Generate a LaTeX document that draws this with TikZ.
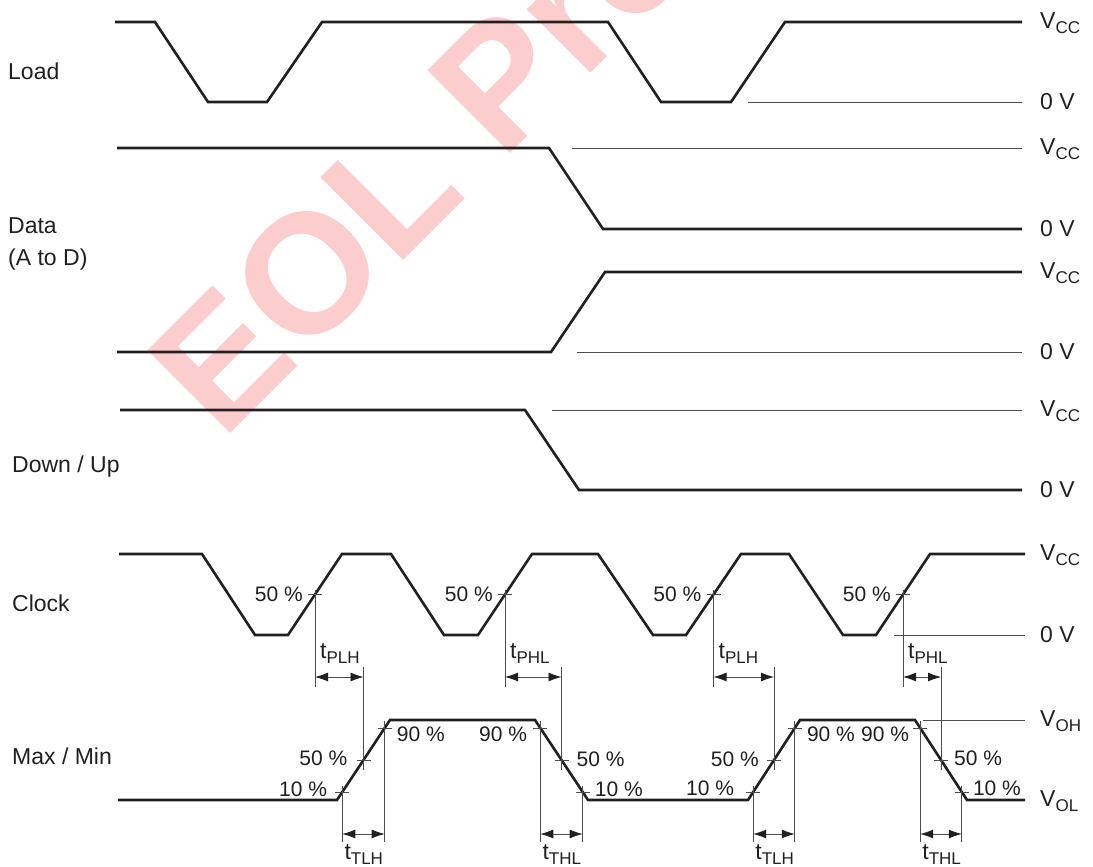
\documentclass[tikz,border=0pt]{standalone}
\usepackage{fontspec}
\setmainfont{Liberation Sans}
\usepackage{tikz}
\usetikzlibrary{arrows.meta,calc}
\definecolor{TraceInk}{HTML}{231F20}
\definecolor{GuideInk}{gray}{0.30}
\definecolor{StampPink}{RGB}{252,205,205}
\newcommand{\lblsize}{\fontsize{23}{27}\selectfont}
\newcommand{\pctsize}{\fontsize{21}{24}\selectfont}
\newcommand{\lowsub}[1]{\raisebox{-5pt}{\fontsize{17}{18}\selectfont #1}}

\begin{document}
\begin{tikzpicture}[x=1pt,y=-1pt,>=Latex,
  trace/.style={line width=2.6pt,draw=TraceInk},
  guide/.style={line width=0.9pt,draw=GuideInk},
  dimline/.style={line width=0.8pt,draw=GuideInk},
  dimarrow/.style={dimline,{Latex[length=13pt,width=9pt,color=TraceInk]}-{Latex[length=13pt,width=9pt,color=TraceInk]}},
  lbl/.style={font=\lblsize,text=TraceInk,inner sep=0pt},
  pct/.style={font=\pctsize,text=TraceInk,inner sep=0pt}]
  \useasboundingbox (0,0) rectangle (1093,867);

  % watermark, cut at the page edge
  \begin{scope}
    \clip (0,0) rectangle (1093,867);
    \node[rotate=45,anchor=base west,inner sep=0pt,text=StampPink,
      font=\bfseries\fontsize{170}{170}\selectfont] (stamp) at (222,442) {EOL Pro};
  \end{scope}

  % input traces
  \draw[trace] (115,22) -- (155,22) -- (208,102) -- (267,102) -- (322,22)
    -- (608,22) -- (661,102) -- (731,102) -- (785,22) -- (1022,22);
  \draw[trace] (117,148) -- (549,148) -- (603,229) -- (1022,229);
  \draw[trace] (117,352) -- (551,352) -- (605,272) -- (1022,272);
  \draw[trace] (120,410) -- (525,410) -- (579,490) -- (1022,490);
  \draw[trace] (119,554) -- (202,554) -- (255,635)
    -- (288,635) coordinate (ckLo1) -- (342,554) coordinate (ckHi1)
    -- (391,554) -- (444,635)
    -- (478,635) coordinate (ckLo2) -- (532,554) coordinate (ckHi2)
    -- (598,554) -- (653,635)
    -- (686,635) coordinate (ckLo3) -- (741,554) coordinate (ckHi3)
    -- (789,554) -- (843,635)
    -- (876,635) coordinate (ckLo4) -- (930,554) coordinate (ckHi4)
    -- (1025,554);
  % output trace
  \draw[trace] (118,800) -- (337,800) coordinate (oLo1) -- (390,720) coordinate (oHi1)
    -- (535,720) coordinate (oHi2) -- (588,800) coordinate (oLo2)
    -- (748,800) coordinate (oLo3) -- (800,720) coordinate (oHi3)
    -- (915,720) coordinate (oHi4) -- (967,800) coordinate (oLo4)
    -- (1025,800);

  % level guides
  \draw[guide] (748,102) -- (1022,102);
  \draw[guide] (572,148) -- (1022,148);
  \draw[guide] (577,352) -- (1022,352);
  \draw[guide] (552,410) -- (1022,410);
  \draw[guide] (894,635) -- (1025,635);
  \draw[guide] (923,720) -- (1025,720);

  \coordinate (pTop) at (0,667);
  \coordinate (pArr) at (0,677);
  \coordinate (pBot) at (0,687);
  \coordinate (oBot) at (0,770);
  \coordinate (tArr) at (0,834);
  \coordinate (tBot) at (0,842);

  \foreach \i/\pl/\tl/\lft in {1/PLH/TLH/q, 2/PHL/THL/n, 3/PLH/TLH/q, 4/PHL/THL/n}{
    \coordinate (c\i) at ($(ckLo\i)!0.5!(ckHi\i)$);
    \coordinate (q\i) at ($(oLo\i)!0.1!(oHi\i)$);
    \coordinate (h\i) at ($(oLo\i)!0.5!(oHi\i)$);
    \coordinate (n\i) at ($(oLo\i)!0.9!(oHi\i)$);
    \foreach \p in {c,q,h,n}
      \draw[dimline] ($(\p\i)+(-7,0)$) -- ($(\p\i)+(7,0)$);
    \draw[dimline] ($(c\i)+(0,-5)$) -- (c\i |- pBot);
    \draw[dimline] (h\i |- pTop) -- (h\i |- oBot);
    \draw[dimarrow] (c\i |- pArr) -- (h\i |- pArr);
    \draw[dimline] ($(q\i)+(0,-6)$) -- (q\i |- tBot);
    \draw[dimline] ($(n\i)+(0,-7)$) -- (n\i |- tBot);
    \draw[dimarrow] (q\i |- tArr) -- (n\i |- tArr);
    \node[lbl,anchor=base west] (tp\i) at ($(c\i |- pArr)+(5,-19)$) {t\lowsub{\pl}};
    \node[lbl,anchor=base west] (tt\i) at ($(\lft\i |- tArr)+(2,25)$) {t\lowsub{\tl}};
    \node[pct,anchor=east] (cp\i) at ($(c\i)+(-12,0)$) {50 \%};
  }

  % output levels
  \node[pct,anchor=east] (pq1) at ($(q1)+(-15,-3)$) {10 \%};
  \node[pct,anchor=east] (ph1) at ($(h1)+(-16,-2)$) {50 \%};
  \node[pct,anchor=west] (pn1) at ($(n1)+(12,6)$) {90 \%};
  \node[pct,anchor=east] (pn2) at ($(n2)+(-13,6)$) {90 \%};
  \node[pct,anchor=west] (ph2) at ($(h2)+(15,-1)$) {50 \%};
  \node[pct,anchor=west] (pq2) at ($(q2)+(12,-3)$) {10 \%};
  \node[pct,anchor=east] (pq3) at ($(q3)+(-19,-4)$) {10 \%};
  \node[pct,anchor=east] (ph3) at ($(h3)+(-15,-1)$) {50 \%};
  \node[pct,anchor=west] (pn3) at ($(n3)+(12,6)$) {90 \%};
  \node[pct,anchor=east] (pn4) at ($(n4)+(-11,6)$) {90 \%};
  \node[pct,anchor=west] (ph4) at ($(h4)+(13,-2)$) {50 \%};
  \node[pct,anchor=west] (pq4) at ($(q4)+(11,-4)$) {10 \%};

  % signal names
  \node[lbl,anchor=base west] (load) at (8,80) {Load};
  \node[lbl,anchor=base west] (data) at (8,233) {Data};
  \node[lbl,anchor=base west] (dataAD) at (8,265) {(A to D)};
  \node[lbl,anchor=base west] (downup) at (12,472) {Down / Up};
  \node[lbl,anchor=base west] (clock) at (12,611) {Clock};
  \node[lbl,anchor=base west] (maxmin) at (12,764) {Max / Min};

  % levels on the right
  \foreach \y/\t in {23/V\lowsub{CC}, 102/0 V, 149/V\lowsub{CC}, 229/0 V,
      273/V\lowsub{CC}, 352/0 V, 411/V\lowsub{CC}, 490/0 V,
      555/V\lowsub{CC}, 635/0 V, 721/V\lowsub{OH}, 801/V\lowsub{OL}}
    \node[lbl,anchor=west] (lv\y) at (1040,\y) {\t};
\end{tikzpicture}
\end{document}
